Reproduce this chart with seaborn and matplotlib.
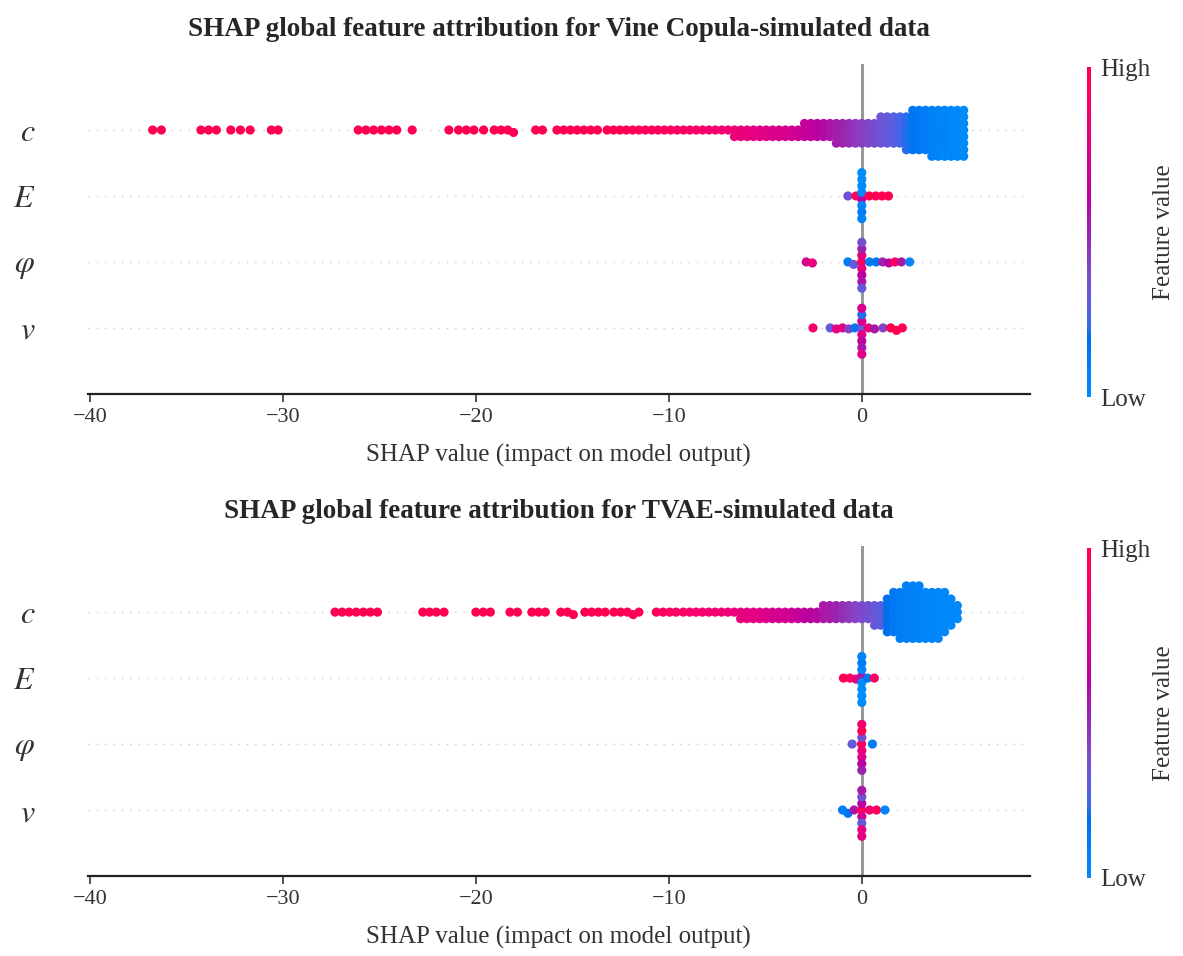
import warnings
warnings.filterwarnings("ignore")
import numpy as np
import pandas as pd
import matplotlib
matplotlib.use("Agg")
import matplotlib.pyplot as plt
import matplotlib.cm as cm
from matplotlib.colors import LinearSegmentedColormap, Normalize
import seaborn as sns

# ---------------------------------------------------------------- data
features = ["c", "E", "φ", "v"]
feature_labels = [r"$c$", r"$E$", r"$\varphi$", r"$v$"]
panel_titles = ["SHAP global feature attribution for Vine Copula-simulated data",
                "SHAP global feature attribution for TVAE-simulated data"]
x_ticks = [-40, -30, -20, -10, 0]
x_label = "SHAP value (impact on model output)"
cbar_ticklabels = ["Low", "High"]
cbar_label = "Feature value"

# ---- Vine Copula, feature c : SHAP value, number of samples, feature value
vine_c_x = [-36.75, -36.3, -34.25, -33.85, -33.45, -32.7, -32.2, -31.7, -30.6, -30.25,
            -26.1, -25.7, -25.3, -24.9, -24.5, -24.1, -23.3, -21.4, -20.9, -20.5, -20.1,
            -19.6, -19.05, -18.7, -18.35, -18.05, -16.9, -16.55, -15.8, -15.45, -15.1,
            -14.75, -14.4, -14.05, -13.7,
            -13.2, -12.87, -12.54, -12.21, -11.88, -11.55, -11.22, -10.89, -10.56, -10.23,
            -9.9, -9.57, -9.24, -8.91, -8.58, -8.25, -7.92, -7.59, -7.26, -6.93, -6.6,
            -6.27, -5.94, -5.61, -5.28, -4.95, -4.62, -4.29, -3.96, -3.63, -3.3, -2.97,
            -2.64, -2.31, -1.98, -1.65, -1.32, -0.99, -0.66, -0.33, 0.0, 0.33, 0.66, 0.99,
            1.32, 1.65, 1.98, 2.31, 2.64, 2.97, 3.3, 3.63, 3.96, 4.29, 4.62, 4.95, 5.28]
vine_c_n = [1, 1, 1, 1, 1, 1, 1, 1, 1, 1,
            1, 1, 1, 1, 1, 1, 1, 1, 1, 1, 1,
            1, 1, 1, 1, 1, 1, 1, 1, 1, 1,
            1, 1, 1, 1,
            1, 1, 1, 1, 1, 1, 1, 1, 1, 1,
            1, 1, 1, 1, 1, 1, 1, 1, 1, 1, 2,
            2, 2, 2, 2, 2, 2, 2, 2, 2, 2, 3,
            3, 3, 3, 3, 4, 4, 4, 4, 4, 4, 4, 5,
            5, 5, 5, 6, 7, 7, 7, 8, 8, 8, 8, 8, 8]
vine_c_f = [1.0, 1.0, 1.0, 1.0, 1.0, 1.0, 1.0, 1.0, 1.0, 1.0,
            1.0, 1.0, 1.0, 1.0, 1.0, 1.0, 1.0, 1.0, 1.0, 1.0, 1.0,
            1.0, 1.0, 1.0, 1.0, 1.0, 1.0, 1.0, 1.0, 1.0, 1.0,
            1.0, 1.0, 1.0, 1.0,
            1.0, 1.0, 1.0, 0.98, 0.98, 0.97, 0.96, 0.95, 0.95, 0.94,
            0.93, 0.92, 0.91, 0.9, 0.89, 0.88, 0.87, 0.86, 0.85, 0.84, 0.82,
            0.81, 0.8, 0.78, 0.76, 0.75, 0.73, 0.72, 0.7, 0.68, 0.66, 0.64,
            0.62, 0.6, 0.58, 0.55, 0.52, 0.5, 0.47, 0.44, 0.42, 0.39, 0.36, 0.33,
            0.3, 0.27, 0.24, 0.2, 0.15, 0.12, 0.1, 0.08, 0.06, 0.05, 0.03, 0.02, 0.0]

# ---- Vine Copula, feature E
vine_E_x = [-0.72, -0.3, -0.01, 0.0, 0.0, 0.0, 0.0, 0.0, 0.0, 0.0, 0.38, 0.72, 1.05, 1.38]
vine_E_n = [1] * 14
vine_E_f = [0.35, 0.95, 0.6, 0.0, 0.05, 0.0, 0.1, 0.0, 0.05, 0.0, 1.0, 1.0, 0.98, 1.0]

# ---- Vine Copula, feature φ
vine_phi_x = [-2.88, -2.56, -0.72, -0.42, -0.01, 0.0, 0.0, 0.0, 0.0, 0.0, 0.0, 0.0,
              0.4, 0.75, 1.08, 1.4, 1.72, 2.05, 2.48]
vine_phi_n = [1] * 19
vine_phi_f = [0.72, 0.8, 0.1, 0.3, 0.95, 0.8, 0.78, 0.6, 0.5, 0.55, 0.35, 0.3,
              0.1, 0.15, 0.5, 0.6, 0.95, 0.55, 0.05]

# ---- Vine Copula, feature v
vine_v_x = [-2.53, -1.64, -1.32, -1.0, -0.68, -0.36, -0.01, 0.0, 0.0, 0.0, 0.0, 0.0, 0.0, 0.0,
            0.34, 0.66, 1.1, 1.5, 1.8, 2.1]
vine_v_n = [1] * 20
vine_v_f = [0.9, 0.3, 0.8, 0.75, 0.4, 0.15, 0.3, 0.75, 0.7, 0.6, 0.2, 0.55, 0.7, 0.75,
            0.8, 0.55, 0.4, 1.0, 0.98, 1.0]

# ---- TVAE, feature c
tvae_c_x = [-27.3, -26.93, -26.57, -26.2, -25.83, -25.47, -25.1,
            -22.75, -22.4, -22.05, -21.65, -20.0, -19.62, -19.25, -18.23, -17.85,
            -17.1, -16.75, -16.4, -15.6, -15.25, -14.95,
            -14.35, -14.0, -13.65, -13.3, -12.85, -12.5, -12.15, -11.85, -11.55,
            -10.65, -10.3, -9.95, -9.62,
            -9.25, -8.92, -8.59, -8.26, -7.93, -7.6, -7.27, -6.94, -6.61, -6.28, -5.95,
            -5.62, -5.29, -4.96, -4.63, -4.3, -3.97, -3.64, -3.31, -2.98, -2.65, -2.32,
            -1.99, -1.66, -1.33, -1.0, -0.67, -0.34, 0.0, 0.33, 0.66, 0.99, 1.32, 1.65,
            1.98, 2.31, 2.64, 2.97, 3.3, 3.63, 3.96, 4.29, 4.62, 4.95]
tvae_c_n = [1, 1, 1, 1, 1, 1, 1,
            1, 1, 1, 1, 1, 1, 1, 1, 1,
            1, 1, 1, 1, 1, 1,
            1, 1, 1, 1, 1, 1, 1, 1, 1,
            1, 1, 1, 1,
            1, 1, 1, 1, 1, 1, 1, 1, 1, 2, 2,
            2, 2, 2, 2, 2, 2, 2, 2, 2, 2, 2,
            3, 3, 3, 3, 3, 3, 3, 3, 4, 4, 6, 7,
            8, 9, 9, 9, 8, 8, 8, 7, 5, 3]
tvae_c_f = [1.0, 1.0, 1.0, 1.0, 1.0, 1.0, 1.0,
            1.0, 1.0, 1.0, 1.0, 1.0, 1.0, 1.0, 1.0, 1.0,
            1.0, 1.0, 1.0, 1.0, 1.0, 1.0,
            1.0, 1.0, 1.0, 1.0, 1.0, 1.0, 0.99, 0.98, 0.97,
            0.95, 0.94, 0.93, 0.92,
            0.92, 0.9, 0.88, 0.87, 0.86, 0.85, 0.84, 0.83, 0.81, 0.8, 0.78,
            0.76, 0.75, 0.73, 0.71, 0.7, 0.68, 0.66, 0.64, 0.62, 0.6, 0.58,
            0.55, 0.53, 0.5, 0.47, 0.44, 0.41, 0.38, 0.35, 0.32, 0.28, 0.18, 0.12,
            0.1, 0.08, 0.07, 0.06, 0.05, 0.04, 0.03, 0.03, 0.02, 0.01]

# ---- TVAE, feature E
tvae_E_x = [-0.95, -0.62, -0.3, -0.01, 0.0, 0.0, 0.0, 0.0, 0.0, 0.0, 0.0, 0.3, 0.65]
tvae_E_n = [1] * 13
tvae_E_f = [1.0, 0.95, 0.8, 0.55, 0.0, 0.05, 0.0, 0.1, 0.0, 0.05, 0.0, 0.15, 0.95]

# ---- TVAE, feature φ
tvae_phi_x = [-0.5, -0.01, 0.0, 0.0, 0.0, 0.0, 0.0, 0.0, 0.0, 0.55]
tvae_phi_n = [1] * 10
tvae_phi_f = [0.3, 0.95, 0.8, 0.35, 0.75, 1.0, 0.6, 0.85, 0.5, 0.1]

# ---- TVAE, feature v
tvae_v_x = [-1.0, -0.72, -0.4, -0.01, 0.0, 0.0, 0.0, 0.0, 0.0, 0.0, 0.0, 0.4, 0.76, 1.2]
tvae_v_n = [1] * 14
tvae_v_f = [0.1, 0.15, 0.55, 0.95, 0.7, 0.6, 0.3, 0.35, 0.8, 0.55, 0.75, 0.85, 0.95, 0.05]


def build_frame(rows):
    parts = []
    for name, xs, ns, fs in rows:
        parts.append(pd.DataFrame({"shap": np.repeat(xs, ns),
                                   "feature": name,
                                   "fval": np.repeat(fs, ns)}))
    return pd.concat(parts, ignore_index=True)


vine_df = build_frame([("c", vine_c_x, vine_c_n, vine_c_f),
                       ("E", vine_E_x, vine_E_n, vine_E_f),
                       ("φ", vine_phi_x, vine_phi_n, vine_phi_f),
                       ("v", vine_v_x, vine_v_n, vine_v_f)])
tvae_df = build_frame([("c", tvae_c_x, tvae_c_n, tvae_c_f),
                       ("E", tvae_E_x, tvae_E_n, tvae_E_f),
                       ("φ", tvae_phi_x, tvae_phi_n, tvae_phi_f),
                       ("v", tvae_v_x, tvae_v_n, tvae_v_f)])


# ---------------------------------------------------------------- SHAP red-blue colormap
def _lch_to_rgb(l, c, h):
    a, b = c * np.cos(h), c * np.sin(h)
    fy = (l + 16) / 116.0
    fx = fy + a / 500.0
    fz = fy - b / 200.0

    def finv(t):
        return t ** 3 if t > 6 / 29 else 3 * (6 / 29) ** 2 * (t - 4 / 29)

    xyz = np.array([0.95047 * finv(fx), finv(fy), 1.08883 * finv(fz)])
    m = np.array([[3.2406, -1.5372, -0.4986],
                  [-0.9689, 1.8758, 0.0415],
                  [0.0557, -0.2040, 1.0570]])
    lin = m @ xyz
    rgb = np.where(lin <= 0.0031308, 12.92 * lin, 1.055 * np.abs(lin) ** (1 / 2.4) - 0.055)
    return np.clip(rgb, 0, 1)


_l = list(np.linspace(54, 40, 50)) + list(np.linspace(40, 54, 50))
_c = np.linspace(70, 90, 100)
_h = np.linspace(4.6588, 0.35470565 + 2 * np.pi, 100)
shap_cmap = LinearSegmentedColormap.from_list(
    "shap_red_blue", [_lch_to_rgb(l, c, h) for l, c, h in zip(_l, _c, _h)])

# ---------------------------------------------------------------- figure
sns.set_style("white")
plt.rcParams["font.family"] = ["Liberation Serif", "DejaVu Serif"]
plt.rcParams["mathtext.fontset"] = "stix"

AXIS_COLOR = "#333333"
LAYOUT_SIZE = 4.5   # marker diameter used by the swarm layout (pt)
DRAW_SIZE = 6.6     # marker diameter used for drawing (pt)

fig = plt.figure(figsize=(11.83, 9.56), dpi=100)
ax_pos = [[0.0744, 0.588, 0.796, 0.345], [0.0744, 0.0837, 0.796, 0.345]]
cax_pos = [[0.9185, 0.5847, 0.0034, 0.345], [0.9185, 0.0816, 0.0034, 0.345]]

axes = []
for i, (df, title) in enumerate([(vine_df, panel_titles[0]), (tvae_df, panel_titles[1])]):
    ax = fig.add_axes(ax_pos[i])
    axes.append(ax)
    sns.swarmplot(data=df, x="shap", y="feature", hue="fval", order=features,
                  palette=shap_cmap, hue_norm=(0, 1), size=LAYOUT_SIZE, linewidth=0,
                  legend=False, ax=ax, zorder=3)
    for k in range(len(features)):
        ax.axhline(k, color="#cccccc", lw=1.0, dashes=(1, 5), zorder=-1)
    ax.axvline(0, color="#999999", lw=2.2, zorder=-1)

    ax.set_xlim(-40.1, 8.7)
    ax.set_ylim(len(features), -1)
    ax.set_xticks(x_ticks)
    ax.set_yticks(range(len(features)))
    ax.set_yticklabels(feature_labels, fontsize=23, color=AXIS_COLOR)
    ax.tick_params(axis="y", length=0, pad=38)
    ax.tick_params(axis="x", direction="out", length=6, width=1.2, color=AXIS_COLOR,
                   labelsize=16, labelcolor=AXIS_COLOR, pad=4, bottom=True)
    for side in ["top", "right", "left"]:
        ax.spines[side].set_visible(False)
    ax.spines["bottom"].set_color("#222222")
    ax.spines["bottom"].set_linewidth(1.6)
    ax.set_ylabel("")
    ax.set_xlabel(x_label, fontsize=18, color=AXIS_COLOR, labelpad=12)
    ax.set_title(title, fontsize=19.5, fontweight="bold", pad=20)
    ax.grid(False)

    cax = fig.add_axes(cax_pos[i])
    sm = cm.ScalarMappable(norm=Normalize(0, 1), cmap=shap_cmap)
    cb = fig.colorbar(sm, cax=cax, ticks=[0, 1])
    cb.set_ticklabels(cbar_ticklabels)
    cb.ax.tick_params(labelsize=18, length=0, pad=7, labelcolor=AXIS_COLOR)
    cb.set_label(cbar_label, size=18, labelpad=2, color=AXIS_COLOR)
    cb.outline.set_visible(False)

# let seaborn compute the swarm layout, then draw the dots slightly larger so they overlap
fig.canvas.draw()
for ax in axes:
    for coll in ax.collections:
        if "draw" in coll.__dict__:
            del coll.draw
        coll.set_sizes([DRAW_SIZE ** 2])

fig.savefig("out.png", dpi=100)
